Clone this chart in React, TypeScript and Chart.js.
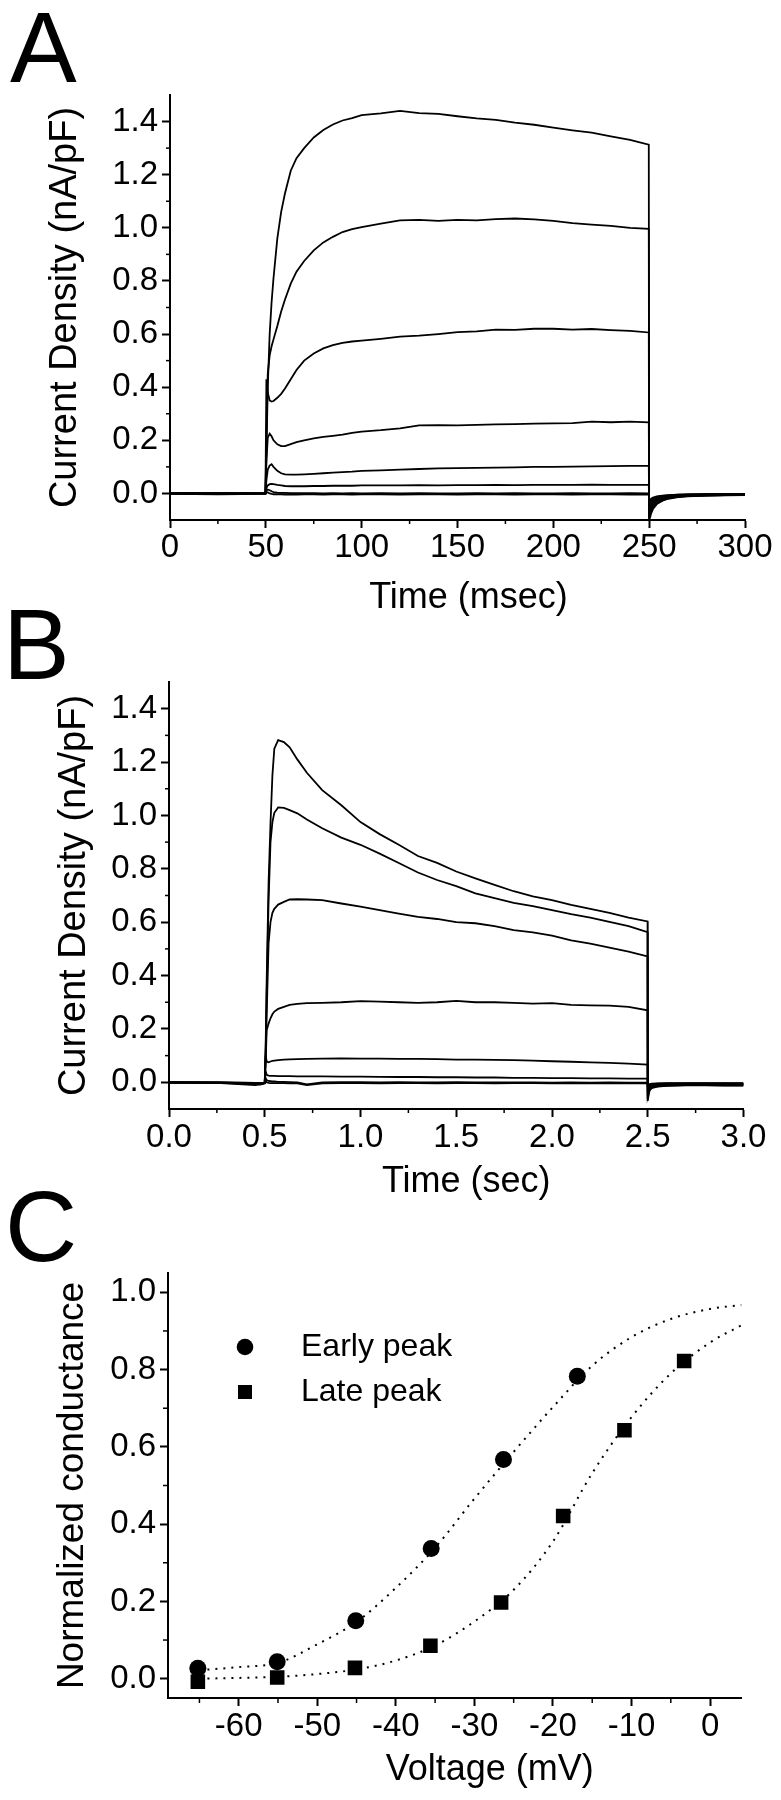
import React, { useEffect, useRef } from "react";
import { Chart, registerables } from "chart.js";

Chart.register(...registerables);

const FONT = "'Liberation Sans', Arial, Helvetica, sans-serif";
const INK = "#000000";

// ---------------- Panel A : currents, time in msec ----------------
const timeA = [0, 25, 49.8, 50, 50.3, 51, 52, 53, 54, 56, 58, 60, 63, 66, 70, 75, 80, 85, 90, 95, 100, 110, 120, 130, 140, 150, 160, 170, 180, 190, 200, 210, 220, 230, 240, 249.8, 250, 250.5, 251, 252, 254, 257, 260, 265, 270, 280, 290, 300];
const traceA1 = [0, -0.002, 0, 0, 0.15, 0.4, 0.6, 0.72, 0.81, 0.96, 1.06, 1.13, 1.215, 1.262, 1.3, 1.34, 1.368, 1.389, 1.404, 1.413, 1.424, 1.431, 1.44, 1.432, 1.429, 1.42, 1.412, 1.406, 1.396, 1.388, 1.377, 1.367, 1.358, 1.344, 1.331, 1.313, -0.1, -0.09, -0.076, -0.058, -0.04, -0.027, -0.02, -0.014, -0.011, -0.008, -0.007, -0.006];
const traceA2 = [0, 0, 0, 0, 0.2, 0.45, 0.52, 0.554, 0.58, 0.63, 0.685, 0.73, 0.79, 0.835, 0.875, 0.915, 0.945, 0.966, 0.984, 0.995, 1.003, 1.016, 1.028, 1.03, 1.026, 1.03, 1.028, 1.033, 1.035, 1.032, 1.026, 1.018, 1.012, 1.007, 1.0, 0.996, -0.088, -0.078, -0.066, -0.051, -0.036, -0.025, -0.018, -0.013, -0.01, -0.008, -0.006, -0.005];
const traceA3 = [0, 0.001, 0, 0, 0.43, 0.38, 0.35, 0.346, 0.348, 0.36, 0.375, 0.395, 0.43, 0.465, 0.5, 0.527, 0.546, 0.558, 0.567, 0.572, 0.575, 0.582, 0.59, 0.594, 0.6, 0.607, 0.61, 0.617, 0.616, 0.62, 0.62, 0.617, 0.619, 0.615, 0.612, 0.606, -0.075, -0.066, -0.056, -0.044, -0.031, -0.022, -0.016, -0.012, -0.009, -0.007, -0.006, -0.005];
const traceA4 = [0, -0.001, 0, 0, 0.12, 0.21, 0.225, 0.215, 0.2, 0.185, 0.178, 0.178, 0.186, 0.193, 0.2, 0.207, 0.213, 0.217, 0.221, 0.228, 0.233, 0.238, 0.245, 0.256, 0.257, 0.256, 0.258, 0.26, 0.261, 0.263, 0.264, 0.265, 0.27, 0.268, 0.27, 0.268, -0.062, -0.054, -0.046, -0.037, -0.026, -0.018, -0.014, -0.01, -0.008, -0.006, -0.005, -0.004];
const traceA5 = [0, 0, 0, 0, 0.05, 0.09, 0.105, 0.11, 0.1, 0.085, 0.076, 0.072, 0.071, 0.071, 0.072, 0.074, 0.076, 0.078, 0.08, 0.082, 0.085, 0.087, 0.09, 0.092, 0.094, 0.095, 0.096, 0.097, 0.098, 0.1, 0.1, 0.101, 0.102, 0.103, 0.104, 0.104, -0.052, -0.045, -0.038, -0.03, -0.021, -0.015, -0.011, -0.008, -0.006, -0.005, -0.004, -0.004];
const traceA6 = [0, 0, 0, 0, 0.02, 0.03, 0.035, 0.036, 0.035, 0.032, 0.03, 0.028, 0.027, 0.027, 0.027, 0.028, 0.028, 0.029, 0.029, 0.029, 0.03, 0.03, 0.03, 0.031, 0.03, 0.031, 0.031, 0.032, 0.031, 0.032, 0.032, 0.032, 0.033, 0.032, 0.032, 0.032, -0.042, -0.036, -0.03, -0.024, -0.017, -0.012, -0.009, -0.007, -0.005, -0.004, -0.004, -0.003];
const traceA7 = [0, 0, 0, 0, 0.01, 0.015, 0.012, 0.008, 0.005, 0.003, 0.002, 0.002, 0.001, 0.001, 0.001, 0.001, 0, 0.001, 0, 0.001, 0, 0.001, 0, 0.001, 0, 0, 0.001, 0, 0.001, 0, 0, 0.001, 0, 0, 0.001, 0, -0.034, -0.029, -0.024, -0.019, -0.013, -0.009, -0.007, -0.005, -0.004, -0.003, -0.003, -0.003];
const traceA8 = [-0.002, -0.003, -0.002, -0.002, 0.005, 0.004, 0, -0.002, -0.003, -0.003, -0.003, -0.004, -0.003, -0.004, -0.003, -0.003, -0.004, -0.003, -0.003, -0.004, -0.003, -0.003, -0.004, -0.003, -0.003, -0.004, -0.003, -0.003, -0.004, -0.003, -0.003, -0.004, -0.003, -0.003, -0.004, -0.003, -0.028, -0.024, -0.02, -0.016, -0.011, -0.008, -0.006, -0.005, -0.004, -0.003, -0.003, -0.002];
const tracesA = [traceA1, traceA2, traceA3, traceA4, traceA5, traceA6, traceA7, traceA8];
const xTicksA = [0, 50, 100, 150, 200, 250, 300];
const xMinorA = [25, 75, 125, 175, 225, 275];

// ---------------- Panel B : currents, time in sec ----------------
const timeB = [0, 0.25, 0.45, 0.48, 0.499, 0.5, 0.505, 0.51, 0.52, 0.53, 0.54, 0.55, 0.57, 0.6, 0.63, 0.67, 0.72, 0.8, 0.9, 1.0, 1.1, 1.2, 1.3, 1.4, 1.5, 1.6, 1.7, 1.8, 1.9, 2.0, 2.1, 2.2, 2.3, 2.4, 2.499, 2.5, 2.505, 2.51, 2.52, 2.55, 2.6, 2.7, 2.8, 2.9, 3.0];
const traceB1 = [0, -0.002, -0.006, -0.008, -0.003, 0, 0.15, 0.38, 0.75, 0.97, 1.15, 1.25, 1.282, 1.275, 1.255, 1.21, 1.16, 1.095, 1.038, 0.975, 0.93, 0.89, 0.848, 0.822, 0.79, 0.764, 0.74, 0.716, 0.697, 0.683, 0.665, 0.65, 0.635, 0.617, 0.603, -0.07, -0.045, -0.03, -0.022, -0.016, -0.013, -0.011, -0.011, -0.012, -0.012];
const traceB2 = [0, -0.002, -0.005, -0.007, -0.003, 0, 0.12, 0.33, 0.68, 0.9, 0.975, 1.01, 1.03, 1.028, 1.02, 1.008, 0.985, 0.952, 0.917, 0.89, 0.857, 0.822, 0.786, 0.758, 0.735, 0.708, 0.69, 0.672, 0.66, 0.645, 0.63, 0.617, 0.601, 0.585, 0.563, -0.06, -0.04, -0.028, -0.02, -0.015, -0.012, -0.01, -0.01, -0.011, -0.011];
const traceB3 = [0, -0.001, -0.004, -0.006, -0.002, 0, 0.1, 0.25, 0.52, 0.6, 0.635, 0.65, 0.666, 0.676, 0.685, 0.686, 0.685, 0.683, 0.67, 0.658, 0.645, 0.632, 0.62, 0.612, 0.6, 0.596, 0.585, 0.57, 0.562, 0.55, 0.532, 0.52, 0.505, 0.49, 0.472, -0.05, -0.034, -0.024, -0.017, -0.013, -0.01, -0.009, -0.009, -0.01, -0.01];
const traceB4 = [0, -0.001, -0.003, -0.005, -0.002, 0, 0.08, 0.195, 0.22, 0.24, 0.255, 0.265, 0.275, 0.283, 0.29, 0.294, 0.297, 0.298, 0.3, 0.304, 0.302, 0.3, 0.298, 0.3, 0.305, 0.3, 0.3, 0.298, 0.295, 0.297, 0.29, 0.288, 0.287, 0.283, 0.27, -0.04, -0.027, -0.019, -0.014, -0.01, -0.008, -0.007, -0.007, -0.008, -0.008];
const traceB5 = [0, -0.001, -0.003, -0.004, -0.001, 0, 0.1, 0.078, 0.075, 0.078, 0.08, 0.081, 0.083, 0.085, 0.086, 0.087, 0.088, 0.089, 0.09, 0.089, 0.089, 0.088, 0.088, 0.087, 0.085, 0.085, 0.084, 0.083, 0.081, 0.079, 0.077, 0.075, 0.073, 0.07, 0.066, -0.032, -0.022, -0.016, -0.012, -0.009, -0.007, -0.006, -0.006, -0.007, -0.007];
const traceB6 = [0, 0, -0.002, -0.003, -0.001, 0, 0.04, 0.028, 0.025, 0.024, 0.024, 0.024, 0.023, 0.023, 0.023, 0.022, 0.022, 0.022, 0.021, 0.021, 0.02, 0.02, 0.02, 0.019, 0.019, 0.018, 0.018, 0.017, 0.017, 0.016, 0.016, 0.015, 0.015, 0.014, 0.014, -0.025, -0.017, -0.012, -0.009, -0.007, -0.006, -0.005, -0.005, -0.005, -0.006];
const traceB7 = [0, 0, -0.002, -0.003, -0.001, 0, 0.015, 0.008, 0.005, 0.004, 0.003, 0.003, 0.002, 0.002, 0.001, 0, -0.008, 0, 0.001, 0.001, 0, 0.001, 0, 0, 0.001, 0, 0, 0, 0, -0.001, 0, -0.001, 0, -0.001, -0.001, -0.018, -0.012, -0.009, -0.007, -0.005, -0.004, -0.004, -0.004, -0.004, -0.004];
const traceB8 = [-0.002, -0.002, -0.01, -0.008, -0.004, -0.002, 0.005, 0, -0.002, -0.003, -0.003, -0.003, -0.003, -0.003, -0.004, -0.004, -0.01, -0.004, -0.003, -0.003, -0.004, -0.003, -0.003, -0.004, -0.003, -0.003, -0.004, -0.003, -0.003, -0.004, -0.004, -0.003, -0.004, -0.004, -0.004, -0.012, -0.009, -0.007, -0.005, -0.004, -0.003, -0.003, -0.003, -0.003, -0.003];
const tracesB = [traceB1, traceB2, traceB3, traceB4, traceB5, traceB6, traceB7, traceB8];
const xTicksB = [0, 0.5, 1.0, 1.5, 2.0, 2.5, 3.0];
const xMinorB = [0.25, 0.75, 1.25, 1.75, 2.25, 2.75];

// shared current-density axis ticks (A and B)
const yTicksAB = [0, 0.2, 0.4, 0.6, 0.8, 1.0, 1.2, 1.4];
const yMinorAB = [0.1, 0.3, 0.5, 0.7, 0.9, 1.1, 1.3];

// ---------------- Panel C : normalized conductance ----------------
const earlyVoltage = [-65.2, -55.1, -45.1, -35.5, -26.3, -16.9];
const earlyConductance = [0.027, 0.044, 0.15, 0.337, 0.567, 0.783];
const lateVoltage = [-65.2, -55.1, -45.2, -35.6, -26.6, -18.7, -10.9, -3.3];
const lateConductance = [-0.008, 0.003, 0.028, 0.085, 0.197, 0.421, 0.643, 0.822];
const fitVoltage = [-65, -60, -55, -50, -45, -40, -35, -30, -25, -20, -15, -10, -5, 0, 4];
const earlyFit = [0.022, 0.03, 0.041, 0.089, 0.147, 0.235, 0.339, 0.466, 0.587, 0.703, 0.81, 0.884, 0.931, 0.957, 0.967];
const lateFit = [0.0, 0.002, 0.005, 0.012, 0.024, 0.047, 0.086, 0.148, 0.23, 0.355, 0.532, 0.677, 0.79, 0.87, 0.915];
const xTicksC = [-60, -50, -40, -30, -20, -10, 0];
const xMinorC = [-65, -55, -45, -35, -25, -15, -5];
const yTicksC = [0, 0.2, 0.4, 0.6, 0.8, 1.0];
const yMinorC = [0.1, 0.3, 0.5, 0.7, 0.9];

// ---------------- plugins ----------------
const minorTicksPlugin = {
  id: "minorTicks",
  afterDraw(chart: any, _a: any, opts: any) {
    const { ctx, chartArea, scales } = chart;
    ctx.save();
    ctx.strokeStyle = INK;
    ctx.lineWidth = 1.5;
    const len = opts.length || 4;
    (opts.x || []).forEach((v: number) => {
      const px = scales.x.getPixelForValue(v);
      ctx.beginPath();
      ctx.moveTo(px, chartArea.bottom);
      ctx.lineTo(px, chartArea.bottom + len);
      ctx.stroke();
    });
    (opts.y || []).forEach((v: number) => {
      const py = scales.y.getPixelForValue(v);
      ctx.beginPath();
      ctx.moveTo(chartArea.left, py);
      ctx.lineTo(chartArea.left - len, py);
      ctx.stroke();
    });
    ctx.restore();
  },
};

const xTitlePlugin = {
  id: "xTitle",
  afterDraw(chart: any, _a: any, opts: any) {
    if (!opts.text) return;
    const { ctx, chartArea } = chart;
    ctx.save();
    ctx.font = `${opts.size}px ${FONT}`;
    ctx.fillStyle = INK;
    ctx.textAlign = "center";
    ctx.textBaseline = "middle";
    ctx.fillText(opts.text, (chartArea.left + chartArea.right) / 2 + opts.dx, opts.y);
    ctx.restore();
  },
};

const insideLegendPlugin = {
  id: "insideLegend",
  afterDraw(chart: any, _a: any, opts: any) {
    if (!opts.display) return;
    const { ctx, chartArea } = chart;
    const items = chart.data.datasets.filter((d: any) => d.showLine === false);
    ctx.save();
    items.forEach((ds: any, i: number) => {
      const cx = chartArea.left + opts.dx;
      const cy = chartArea.top + opts.dy + i * opts.gap;
      ctx.fillStyle = INK;
      if (ds.pointStyle === "rect") {
        const s = opts.square;
        ctx.fillRect(cx - s / 2, cy - s / 2, s, s);
      } else {
        ctx.beginPath();
        ctx.arc(cx, cy, opts.radius, 0, Math.PI * 2);
        ctx.fill();
      }
      ctx.font = `${opts.size}px ${FONT}`;
      ctx.textAlign = "left";
      ctx.textBaseline = "middle";
      ctx.fillText(ds.label, chartArea.left + opts.textDx, cy);
    });
    ctx.restore();
  },
};

// ---------------- config helpers ----------------
function axisY(min: number, max: number, ticks: number[], title: string, titleSize: number, titlePad: number, width: number) {
  return {
    type: "linear",
    min,
    max,
    afterBuildTicks: (s: any) => {
      s.ticks = ticks.map((v) => ({ value: v }));
    },
    afterFit: (s: any) => {
      s.width = width;
    },
    ticks: {
      autoSkip: false,
      padding: 4,
      color: INK,
      font: { size: 33, family: FONT },
      callback: (v: any) => Number(v).toFixed(1),
    },
    grid: { display: true, drawOnChartArea: false, drawTicks: true, tickLength: 8, tickWidth: 2, tickColor: INK },
    border: { display: true, color: INK, width: 2 },
    title: { display: true, text: title, color: INK, font: { size: titleSize, family: FONT }, padding: { top: titlePad, bottom: 0 } },
  };
}

function axisX(min: number, max: number, ticks: number[], decimals: number, height: number, pad: number) {
  return {
    type: "linear",
    min,
    max,
    afterBuildTicks: (s: any) => {
      s.ticks = ticks.map((v) => ({ value: v }));
    },
    afterFit: (s: any) => {
      s.height = height;
    },
    ticks: {
      autoSkip: false,
      maxRotation: 0,
      minRotation: 0,
      padding: pad,
      color: INK,
      font: { size: 33, family: FONT },
      callback: (v: any) => Number(v).toFixed(decimals),
    },
    grid: { display: true, drawOnChartArea: false, drawTicks: true, tickLength: 8, tickWidth: 2, tickColor: INK },
    border: { display: true, color: INK, width: 2 },
    title: { display: false },
  };
}

function traceDatasets(times: number[], traces: number[][]) {
  return traces.map((tr, k) => ({
    label: `trace ${k + 1}`,
    data: times.map((t, i) => ({ x: t, y: tr[i] })),
    showLine: true,
    borderColor: INK,
    borderWidth: 1.8,
    pointRadius: 0,
    tension: 0,
  }));
}

function configA(): any {
  return {
    type: "scatter",
    data: { datasets: traceDatasets(timeA, tracesA) },
    options: {
      responsive: false,
      animation: false,
      events: [],
      layout: { padding: { left: 0, right: 36, top: 95, bottom: 0 } },
      scales: {
        x: axisX(0, 300, xTicksA, 0, 100, 0),
        y: axisY(-0.1, 1.5, yTicksAB, "Current Density (nA/pF)", 38, 43, 170),
      },
      plugins: {
        legend: { display: false },
        tooltip: { enabled: false },
        minorTicks: { x: xMinorA, y: yMinorAB, length: 4 },
        xTitle: { text: "Time (msec)", size: 36, dx: 11, y: 598 },
      },
    },
    plugins: [minorTicksPlugin, xTitlePlugin],
  };
}

function configB(): any {
  return {
    type: "scatter",
    data: { datasets: traceDatasets(timeB, tracesB) },
    options: {
      responsive: false,
      animation: false,
      events: [],
      layout: { padding: { left: 0, right: 37.5, top: 62, bottom: 0 } },
      scales: {
        x: axisX(0, 3, xTicksB, 1, 95, 1),
        y: axisY(-0.1, 1.5, yTicksAB, "Current Density (nA/pF)", 38, 52, 169),
      },
      plugins: {
        legend: { display: false },
        tooltip: { enabled: false },
        minorTicks: { x: xMinorB, y: yMinorAB, length: 4 },
        xTitle: { text: "Time (sec)", size: 36, dx: 10, y: 562 },
      },
    },
    plugins: [minorTicksPlugin, xTitlePlugin],
  };
}

function configC(): any {
  return {
    type: "scatter",
    data: {
      datasets: [
        {
          label: "Early peak",
          data: earlyVoltage.map((v, i) => ({ x: v, y: earlyConductance[i] })),
          showLine: false,
          pointStyle: "circle",
          pointRadius: 8.5,
          backgroundColor: INK,
          borderColor: INK,
          borderWidth: 0,
        },
        {
          label: "Late peak",
          data: lateVoltage.map((v, i) => ({ x: v, y: lateConductance[i] })),
          showLine: false,
          pointStyle: "rect",
          pointRadius: 10.3,
          backgroundColor: INK,
          borderColor: INK,
          borderWidth: 0,
        },
        {
          label: "Early peak fit",
          data: fitVoltage.map((v, i) => ({ x: v, y: earlyFit[i] })),
          showLine: true,
          pointRadius: 0,
          borderColor: INK,
          borderWidth: 2,
          borderDash: [2, 6],
          cubicInterpolationMode: "monotone",
        },
        {
          label: "Late peak fit",
          data: fitVoltage.map((v, i) => ({ x: v, y: lateFit[i] })),
          showLine: true,
          pointRadius: 0,
          borderColor: INK,
          borderWidth: 2,
          borderDash: [2, 6],
          cubicInterpolationMode: "monotone",
        },
      ],
    },
    options: {
      responsive: false,
      animation: false,
      events: [],
      layout: { padding: { left: 0, right: 39.5, top: 73, bottom: 0 } },
      scales: {
        x: axisX(-69, 4, xTicksC, 0, 102, 1),
        y: axisY(-0.05, 1.05, yTicksC, "Normalized conductance", 37, 51, 168),
      },
      plugins: {
        legend: { display: false },
        tooltip: { enabled: false },
        minorTicks: { x: xMinorC, y: yMinorC, length: 5 },
        xTitle: { text: "Voltage (mV)", size: 36, dx: 35, y: 570 },
        insideLegend: { display: true, dx: 77, dy: 74, gap: 45, radius: 8.3, square: 14, textDx: 133, size: 32 },
      },
    },
    plugins: [minorTicksPlugin, xTitlePlugin, insideLegendPlugin],
  };
}

function ChartCanvas({ make, top, height }: { make: () => any; top: number; height: number }) {
  const ref = useRef<HTMLCanvasElement>(null);
  useEffect(() => {
    const chart = new Chart(ref.current as HTMLCanvasElement, make());
    return () => chart.destroy();
  }, []);
  return (
    <canvas
      ref={ref}
      width={781}
      height={height}
      style={{ position: "absolute", left: 0, top, width: 781, height }}
    />
  );
}

const letterStyle = (left: number, top: number): React.CSSProperties => ({
  position: "absolute",
  left,
  top,
  fontFamily: FONT,
  fontSize: 100,
  lineHeight: "100px",
  color: INK,
  zIndex: 2,
});

export default function App() {
  return (
    <div style={{ position: "absolute", left: 0, top: 0, width: 781, height: 1800, background: "#fff", overflow: "hidden" }}>
      <ChartCanvas make={configA} top={0} height={620} />
      <ChartCanvas make={configB} top={620} height={584} />
      <ChartCanvas make={configC} top={1200} height={600} />
      <div style={letterStyle(10, -3)}>A</div>
      <div style={letterStyle(3, 594)}>B</div>
      <div style={letterStyle(5, 1176)}>C</div>
    </div>
  );
}
